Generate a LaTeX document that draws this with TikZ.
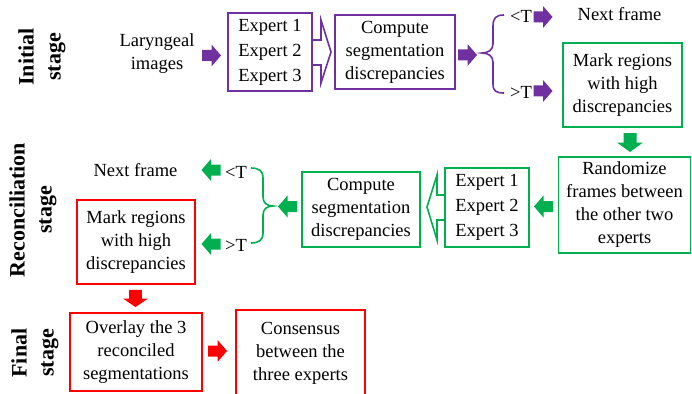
\documentclass[tikz,border=0pt]{standalone}
\usepackage{fontspec}
\setmainfont{Liberation Serif}
\definecolor{cpurple}{HTML}{7030A0}
\definecolor{cgreen}{HTML}{00B050}
\definecolor{cred}{HTML}{FF0000}
\tikzset{
  txt/.style={align=center, inner sep=0pt, font=\fontsize{18.5}{23}\selectfont},
  box/.style={txt, draw=#1, line width=1.6pt, rectangle},
  stagelbl/.style={align=center, inner sep=0pt, rotate=90, font=\fontsize{22}{27}\selectfont\bfseries},
  barr/.pic={\fill[pic actions] (-9.5,-5.5) -- (0,-5.5) -- (0,-11) -- (9.5,0) -- (0,11) -- (0,5.5) -- (-9.5,5.5) -- cycle;},
  outl/.style={draw=#1, line width=1.6pt, line join=miter},
  brc/.style={draw=#1, line width=1.6pt}
}
\begin{document}
\begin{tikzpicture}[x=1pt, y=-1pt]
\useasboundingbox (0,0) rectangle (692,393);
\clip (0,0) rectangle (692,393);
% stage labels
\node[stagelbl] (st1) at (42,57) {Initial\\stage};
\node[stagelbl] (st2) at (33,210) {Reconciliation\\stage};
\node[stagelbl] (st3) at (35,353) {Final\\stage};
% initial stage
\node[txt] (lar) at (157,54) {Laryngeal\\images};
\pic[fill=cpurple] (pa1) at (211.5,55.5) {barr};
\node[box=cpurple, minimum width=84pt, minimum height=78pt, font=\fontsize{18.5}{25}\selectfont] (ex1) at (270,52) {Expert 1\\Expert 2\\Expert 3};
\draw[outl=cpurple] (312,40) -- (321,40) -- (321,20) -- (331,52) -- (321,83) -- (321,65) -- (312,65);
\node[box=cpurple, minimum width=120pt, minimum height=74pt] (cmp1) at (395,52) {Compute\\segmentation\\discrepancies};
\pic[fill=cpurple] (pa2) at (467.5,55) {barr};
\draw[brc=cpurple] (504,15) .. controls (496,15) and (493,18) .. (493,26) -- (493,44) .. controls (493,50) and (488,53) .. (482,53) .. controls (488,53) and (493,56) .. (493,62) -- (493,84) .. controls (493,91) and (496,93) .. (504,93);
\node[txt] (lt1) at (521,16) {<T};
\node[txt] (gt1) at (521,92) {>T};
\pic[fill=cpurple] (pa3) at (543,17) {barr};
\pic[fill=cpurple] (pa4) at (543,91) {barr};
\node[txt] (nf1) at (619.5,14) {Next frame};
\node[box=cgreen, minimum width=119pt, minimum height=84pt] (mk1) at (622.5,85) {Mark regions\\with high\\discrepancies};
% reconciliation stage
\pic[fill=cgreen, rotate=-90, xscale=1, yscale=1.18] (ga1) at (630,142.5) {barr};
\node[box=cgreen, minimum width=132pt, minimum height=96pt] (rnd) at (624.5,205) {Randomize\\frames between\\the other two\\experts};
\pic[fill=cgreen, rotate=180] (ga2) at (543.5,206.5) {barr};
\node[box=cgreen, minimum width=84pt, minimum height=79pt, font=\fontsize{18.5}{25}\selectfont] (ex2) at (487,207.5) {Expert 1\\Expert 2\\Expert 3};
\draw[outl=cgreen] (445,195) -- (437,195) -- (437,175) -- (427,207) -- (437,240) -- (437,220) -- (445,220);
\node[box=cgreen, minimum width=118pt, minimum height=75pt] (cmp2) at (361,209.5) {Compute\\segmentation\\discrepancies};
\pic[fill=cgreen, rotate=180] (ga3) at (287.5,206.5) {barr};
\draw[brc=cgreen] (251,168) .. controls (259,168) and (263,171) .. (263,178) -- (263,197) .. controls (263,203) and (267,206) .. (273,206) .. controls (267,206) and (263,209) .. (263,215) -- (263,233) .. controls (263,240) and (259,243) .. (251,243);
\node[txt] (lt2) at (236,172) {<T};
\node[txt] (gt2) at (236,245) {>T};
\pic[fill=cgreen, rotate=180] (ga4) at (211,170) {barr};
\pic[fill=cgreen, rotate=180] (ga5) at (211,244) {barr};
\node[txt] (nf2) at (135.5,170) {Next frame};
\node[box=cred, minimum width=118pt, minimum height=84pt] (mk2) at (136,242) {Mark regions\\with high\\discrepancies};
% final stage
\pic[fill=cred, rotate=-90, xscale=0.9, yscale=1.14] (ra1) at (135.5,298.5) {barr};
\node[box=cred, minimum width=132pt, minimum height=78pt] (ovl) at (136,352) {Overlay the 3\\reconciled\\segmentations};
\pic[fill=cred] (ra2) at (217.5,351) {barr};
\node[box=cred, minimum width=129pt, minimum height=88pt] (cns) at (300.5,354) {};
\node[txt] (cnst) at (300.5,353) {Consensus\\between the\\three experts};
\end{tikzpicture}
\end{document}
